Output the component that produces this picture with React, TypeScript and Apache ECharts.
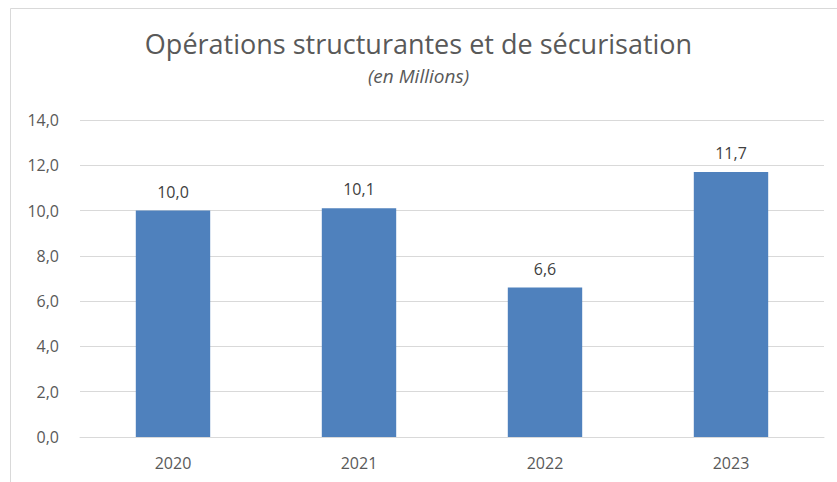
import React, { useEffect, useRef } from "react";
import * as echarts from "echarts";

const categories = ["2020", "2021", "2022", "2023"];
const values = [10.0, 10.1, 6.6, 11.7];
const yTicks = { min: 0, max: 14, interval: 2 };

export default function App() {
  const ref = useRef<HTMLDivElement>(null);
  useEffect(() => {
    document.body.style.margin = "0";
    const chart = echarts.init(ref.current!, undefined, { renderer: "svg" });
    const fmt = (v: number) => v.toFixed(1).replace(".", ",");
    chart.setOption({
      animation: false,
      backgroundColor: "#ffffff",
      graphic: [
        {
          type: "rect",
          shape: { x: 10.5, y: 8.5, width: 840, height: 480 },
          style: { fill: "none", stroke: "#d9d9d9", lineWidth: 1 },
          silent: true,
        },
      ],
      title: {
        text: "Opérations structurantes et de sécurisation",
        subtext: "(en Millions)",
        left: "center",
        top: 25,
        itemGap: 9,
        textStyle: {
          fontFamily: "Open Sans",
          fontWeight: "normal",
          fontSize: 27,
          color: "#595959",
        },
        subtextStyle: {
          fontFamily: "Open Sans",
          fontStyle: "italic",
          fontSize: 19,
          color: "#595959",
        },
      },
      grid: { left: 80, right: 13, top: 120, bottom: 45 },
      xAxis: {
        type: "category",
        data: categories,
        axisLine: { lineStyle: { color: "#d9d9d9", width: 1 } },
        axisTick: { show: false },
        axisLabel: { color: "#595959", fontSize: 16, fontFamily: "Open Sans", margin: 18 },
      },
      yAxis: {
        type: "value",
        min: yTicks.min,
        max: yTicks.max,
        interval: yTicks.interval,
        axisLine: { show: false },
        axisTick: { show: false },
        splitLine: { lineStyle: { color: "#d9d9d9", width: 1 } },
        axisLabel: {
          color: "#595959",
          fontSize: 16,
          fontFamily: "Open Sans",
          margin: 21,
          formatter: (v: number) => fmt(v),
        },
      },
      series: [
        {
          type: "bar",
          data: values,
          barWidth: "40%",
          itemStyle: { color: "#4f81bd" },
          label: {
            show: true,
            position: "top",
            distance: 11,
            color: "#404040",
            fontSize: 16,
            fontFamily: "Open Sans",
            formatter: (p: any) => fmt(p.value),
          },
        },
      ],
    });
    return () => chart.dispose();
  }, []);
  return <div ref={ref} style={{ width: 837, height: 482 }} />;
}
